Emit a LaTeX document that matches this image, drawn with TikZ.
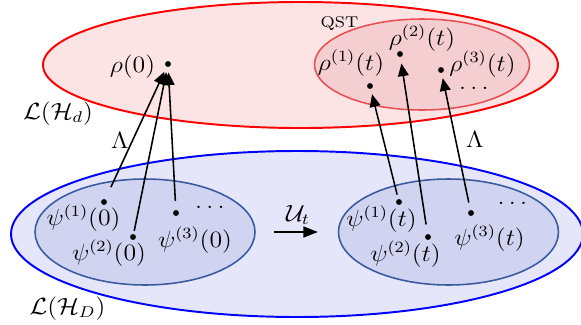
\documentclass[tikz,border=0pt]{standalone}
\usepackage{amsmath,amssymb}
\usepackage{xcolor}
\usepackage{tikz}
\usetikzlibrary{arrows.meta}

\definecolor{hdfill}{RGB}{253,228,228}
\definecolor{qstfill}{RGB}{244,206,208}
\definecolor{qstline}{RGB}{232,80,85}
\definecolor{hbfill}{RGB}{230,230,250}
\definecolor{psifill}{RGB}{208,212,240}
\definecolor{psiline}{RGB}{55,90,160}

\begin{document}
\begin{tikzpicture}[
  spot/.style={circle, fill=black, inner sep=0pt, minimum size=3pt},
  lbl/.style={anchor=base, inner sep=0pt, xscale=1.1, font=\large},
  more/.style={lbl, text height=1.5pt, text depth=0pt},
  arr/.style={thick, -{Triangle[length=6.5pt,width=5.5pt]}, shorten >=2.6pt}
]
\useasboundingbox (0,0) rectangle (10.458,5.832);
% spaces
\filldraw[draw=red, fill=hdfill, line width=1pt] (5.409,4.662) ellipse [x radius=4.635, y radius=1.134];
\filldraw[draw=qstline, fill=qstfill, thick] (7.596,4.671) ellipse [x radius=1.935, y radius=0.819];
\filldraw[draw=blue, fill=hbfill, line width=1pt] (5.346,1.62) ellipse [x radius=5.148, y radius=1.494];
\filldraw[draw=psiline, fill=psifill, thick] (2.61,1.656) ellipse [x radius=1.98, y radius=0.954];
\filldraw[draw=psiline, fill=psifill, thick] (8.073,1.656) ellipse [x radius=1.98, y radius=0.954];

\node[lbl] (Ld) at (1.044,3.69) {$\mathcal{L}(\mathcal{H}_d)$};
\node[lbl] (LD) at (1.215,0.18) {$\mathcal{L}(\mathcal{H}_D)$};
\node[lbl, font=\footnotesize] (qst) at (6.111,5.346) {QST};

% states
\node[spot] (r0) at (3.024,4.68) {};
\node[spot] (r1) at (6.66,4.284) {};
\node[spot] (r2) at (7.2,4.86) {};
\node[spot] (r3) at (7.938,4.572) {};
\node[spot] (p10) at (1.872,2.196) {};
\node[spot] (p20) at (2.394,1.566) {};
\node[spot] (p30) at (3.168,1.998) {};
\node[spot] (p1t) at (7.182,2.196) {};
\node[spot] (p2t) at (7.704,1.566) {};
\node[spot] (p3t) at (8.478,1.998) {};

\node[lbl] (r0l) at (2.385,4.536) {$\rho(0)$};
\node[lbl] (r1l) at (6.318,4.572) {$\rho^{(1)}(t)$};
\node[lbl] (r2l) at (7.596,5.022) {$\rho^{(2)}(t)$};
\node[lbl] (r3l) at (8.685,4.554) {$\rho^{(3)}(t)$};
\node[more] (rdots) at (8.532,4.23) {$\ldots$};
\node[lbl] (p10l) at (1.503,1.782) {$\psi^{(1)}(0)$};
\node[lbl] (p20l) at (1.962,1.152) {$\psi^{(2)}(0)$};
\node[lbl] (p30l) at (3.51,1.386) {$\psi^{(3)}(0)$};
\node[more] (p0dots) at (3.78,2.088) {$\ldots$};
\node[lbl] (p1tl) at (6.867,1.764) {$\psi^{(1)}(t)$};
\node[lbl] (p2tl) at (7.299,1.134) {$\psi^{(2)}(t)$};
\node[lbl] (p3tl) at (8.811,1.422) {$\psi^{(3)}(t)$};
\node[more] (ptdots) at (9.225,2.16) {$\ldots$};

% maps
\draw[arr, shorten <=6.7pt] (p10) -- (r0);
\draw[arr, shorten <=1.5pt] (p20) -- (r0);
\draw[arr, shorten <=4.5pt] (p30) -- (r0);
\draw[arr, shorten <=2.2pt] (p1t) -- (r1);
\draw[arr, shorten <=4.8pt, shorten >=3.2pt] (p2t) -- (r2);
\draw[arr, shorten <=3.8pt] (p3t) -- (r3);
\node[lbl] (lamL) at (2.16,3.168) {$\Lambda$};
\node[lbl] (lamR) at (8.55,3.186) {$\Lambda$};

\coordinate (ua) at (4.932,1.656);
\coordinate (ub) at (5.724,1.656);
\draw[line width=1.2pt, -{Triangle[length=7.5pt,width=5.5pt]}] (ua) -- (ub);
\node[lbl] (Ut) at (5.364,1.854) {$\mathcal{U}_t$};
\end{tikzpicture}
\end{document}
